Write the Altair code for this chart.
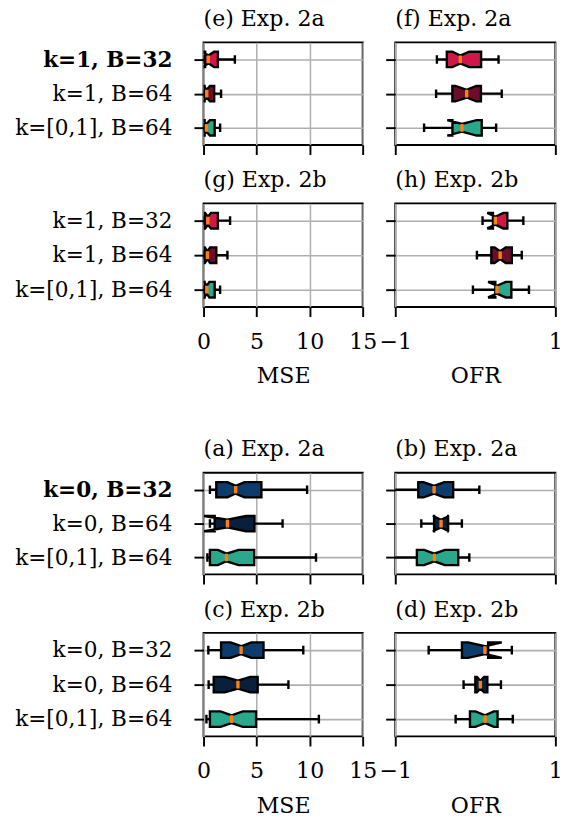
import altair as alt
import pandas as pd

FONT = "DejaVu Serif"
FS = 23
FS_Y = 22.5

# ---------------- data ----------------
labels_k1 = ["k=1, B=32", "k=1, B=64", "k=[0,1], B=64"]
labels_k0 = ["k=0, B=32", "k=0, B=64", "k=[0,1], B=64"]
colors_k1 = ["#D1174A", "#6B0E2A", "#2AA88C"]
colors_k0 = ["#0B3C6B", "#08203B", "#2AA88C"]
median_color = "#FF7F0E"

mse_ticks = [0, 5, 10, 15]
ofr_ticks = [-1, 0, 1]

# (e) MSE, Exp. 2a, k=1
e_whislo = [0.02, 0.02, 0.02]
e_q1 = [0.15, 0.10, 0.10]
e_cilo = [-0.10, 0.00, -0.05]
e_med = [0.45, 0.30, 0.27]
e_cihi = [1.00, 0.60, 0.60]
e_q3 = [1.35, 1.00, 1.05]
e_whishi = [2.95, 1.65, 1.56]

# (f) OFR, Exp. 2a, k=1
f_whislo = [-0.48, -0.49, -0.64]
f_q1 = [-0.356, -0.287, -0.286]
f_cilo = [-0.287, -0.248, -0.350]
f_med = [-0.188, -0.108, -0.167]
f_cihi = [-0.077, 0.012, 0.016]
f_q3 = [0.072, 0.07, 0.08]
f_whishi = [0.29, 0.33, 0.26]

# (g) MSE, Exp. 2b, k=1
g_whislo = [0.02, 0.02, 0.02]
g_q1 = [0.12, 0.10, 0.10]
g_cilo = [0.15, 0.12, 0.05]
g_med = [0.40, 0.36, 0.30]
g_cihi = [0.70, 0.62, 0.55]
g_q3 = [1.35, 1.20, 1.05]
g_whishi = [2.50, 2.25, 1.56]

# (h) OFR, Exp. 2b, k=1
h_whislo = [0.09, 0.02, -0.03]
h_q1 = [0.22, 0.20, 0.25]
h_cilo = [0.15, 0.24, 0.16]
h_med = [0.25, 0.31, 0.27]
h_cihi = [0.35, 0.38, 0.38]
h_q3 = [0.40, 0.456, 0.45]
h_whishi = [0.60, 0.58, 0.67]

# (a) MSE, Exp. 2a, k=0
a_whislo = [0.60, 0.60, 0.36]
a_q1 = [1.20, 1.05, 0.60]
a_cilo = [2.25, 0.05, 1.35]
a_med = [3.03, 2.25, 2.16]
a_cihi = [3.85, 4.00, 3.30]
a_q3 = [5.45, 4.80, 4.77]
a_whishi = [9.76, 7.45, 10.60]

# (b) OFR, Exp. 2a, k=0
b_whislo = [-1.10, -0.675, -1.10]
b_q1 = [-0.713, -0.515, -0.730]
b_cilo = [-0.647, -0.530, -0.640]
b_med = [-0.515, -0.428, -0.512]
b_cihi = [-0.388, -0.330, -0.380]
b_q3 = [-0.277, -0.340, -0.214]
b_whishi = [0.05, -0.168, -0.075]

# (c) MSE, Exp. 2b, k=0
c_whislo = [0.45, 0.48, 0.27]
c_q1 = [1.65, 0.96, 0.60]
c_cilo = [2.55, 2.00, 1.60]
c_med = [3.54, 3.24, 2.64]
c_cihi = [4.50, 4.40, 3.70]
c_q3 = [5.65, 5.10, 4.95]
c_whishi = [9.40, 8.00, 10.87]

# (d) OFR, Exp. 2b, k=0
d_whislo = [-0.583, -0.147, -0.246]
d_q1 = [-0.167, 0.00, -0.067]
d_cilo = [-0.09, 0.02, 0.00]
d_med = [0.12, 0.063, 0.123]
d_cihi = [0.33, 0.11, 0.23]
d_q3 = [0.16, 0.15, 0.278]
d_whishi = [0.456, 0.32, 0.468]

# ---------------- geometry / style ----------------
BOX_HW = 0.225
NOTCH_HW = 0.1125
CAP_HW = 0.125
W_LEFT, W_RIGHT = 166, 167
LW = 2.5


def box_frame(stats, colors):
    whislo, q1, cilo, med, cihi, q3, whishi = stats
    rows = []
    for i in range(3):
        pos = i + 1
        rows.append(dict(box=i, pos=pos, whislo=whislo[i], q1=q1[i], med=med[i],
                         q3=q3[i], whishi=whishi[i], color=colors[i],
                         cap_top=pos - CAP_HW, cap_bot=pos + CAP_HW,
                         med_top=pos - NOTCH_HW, med_bot=pos + NOTCH_HW))
    return pd.DataFrame(rows)


def poly_frame(stats, colors):
    whislo, q1, cilo, med, cihi, q3, whishi = stats
    rows = []
    for i in range(3):
        pos = i + 1
        t, b = pos - BOX_HW, pos + BOX_HW
        nt, nb = pos - NOTCH_HW, pos + NOTCH_HW
        verts = [(q1[i], t), (cilo[i], t), (med[i], nt), (cihi[i], t), (q3[i], t),
                 (q3[i], b), (cihi[i], b), (med[i], nb), (cilo[i], b), (q1[i], b),
                 (q1[i], t), (cilo[i], t)]
        for j, (vx, vy) in enumerate(verts):
            rows.append(dict(box=i, idx=j, px=vx, py=vy, color=colors[i]))
    return pd.DataFrame(rows)


def panel(title, stats, colors, labels, metric, show_x, show_y, bold_first, height, width):
    if metric == "MSE":
        xdom, xticks = [0, 15], mse_ticks
    else:
        xdom, xticks = [-1, 1], ofr_ticks
    xs = alt.Scale(domain=xdom, nice=False, zero=False)
    ys = alt.Scale(domain=[0.5, 3.5], nice=False, zero=False, reverse=True)
    common = dict(tickSize=10, tickWidth=2, tickColor="black", grid=True,
                  gridColor="#b0b0b0", gridWidth=1.6, domain=False,
                  labelFont=FONT, labelColor="black",
                  titleFont=FONT, titleFontSize=FS, titleFontWeight="normal",
                  titleColor="black")
    xa = alt.Axis(values=xticks, labels=show_x, title=metric if show_x else None,
                  labelPadding=15, labelFlush=False, titlePadding=13, format="d",
                  labelOverlap=False, labelFontSize=FS, **common)
    lab_expr = ("datum.value == 1 ? '%s' : datum.value == 2 ? '%s' : '%s'"
                % (labels[0], labels[1], labels[2]))
    yk = dict(values=[1, 2, 3], labels=show_y, title=None, labelPadding=23,
              labelExpr=lab_expr, labelOverlap=False, labelFontSize=FS_Y)
    if bold_first:
        yk["labelFontWeight"] = alt.condition("datum.value == 1", alt.value("bold"), alt.value("normal"))
    ya = alt.Axis(**yk, **common)

    bdf = box_frame(stats, colors)
    pdf = poly_frame(stats, colors)
    base = alt.Chart(bdf)

    def Y(f):
        return alt.Y(f, type="quantitative", scale=ys, axis=ya)

    def X(f):
        return alt.X(f, type="quantitative", scale=xs, axis=xa)

    whisk_lo = base.mark_rule(color="black", strokeWidth=LW, clip=True).encode(
        x=X("whislo"), x2="q1:Q", y=Y("pos"))
    whisk_hi = base.mark_rule(color="black", strokeWidth=LW, clip=True).encode(
        x=X("q3"), x2="whishi:Q", y=Y("pos"))
    cap_lo = base.mark_rule(color="black", strokeWidth=LW, clip=True).encode(
        x=X("whislo"), y=Y("cap_top"), y2="cap_bot:Q")
    cap_hi = base.mark_rule(color="black", strokeWidth=LW, clip=True).encode(
        x=X("whishi"), y=Y("cap_top"), y2="cap_bot:Q")
    boxes = alt.Chart(pdf).mark_line(stroke="black", strokeWidth=LW, strokeJoin="miter",
                                     clip=True, interpolate="linear").encode(
        x=X("px"), y=Y("py"), order="idx:Q", detail="box:N",
        fill=alt.Fill("color:N", scale=None))
    meds = base.mark_rule(color=median_color, strokeWidth=3.5, clip=True).encode(
        x=X("med"), y=Y("med_top"), y2="med_bot:Q")

    return alt.layer(whisk_lo, whisk_hi, cap_lo, cap_hi, boxes, meds).properties(
        width=width, height=height,
        title=alt.TitleParams(title, anchor="start", frame="group", font=FONT,
                              fontSize=FS, fontWeight="normal", color="black",
                              offset=-11, baseline="bottom"))


def st(p):
    g = globals()
    return [g[p + "_" + k] for k in ["whislo", "q1", "cilo", "med", "cihi", "q3", "whishi"]]


pe = panel("(e) Exp. 2a", st("e"), colors_k1, labels_k1, "MSE", False, True, True, 107, W_LEFT)
pf = panel("(f) Exp. 2a", st("f"), colors_k1, labels_k1, "OFR", False, False, False, 107, W_RIGHT)
pg = panel("(g) Exp. 2b", st("g"), colors_k1, labels_k1, "MSE", True, True, False, 108, W_LEFT)
ph = panel("(h) Exp. 2b", st("h"), colors_k1, labels_k1, "OFR", True, False, False, 108, W_RIGHT)
pa = panel("(a) Exp. 2a", st("a"), colors_k0, labels_k0, "MSE", False, True, True, 106, W_LEFT)
pb = panel("(b) Exp. 2a", st("b"), colors_k0, labels_k0, "OFR", False, False, False, 106, W_RIGHT)
pc = panel("(c) Exp. 2b", st("c"), colors_k0, labels_k0, "MSE", True, True, False, 108, W_LEFT)
pd_ = panel("(d) Exp. 2b", st("d"), colors_k0, labels_k0, "OFR", True, False, False, 108, W_RIGHT)

row1 = alt.hconcat(pe, pf, spacing=34, bounds="flush")
row2 = alt.hconcat(pg, ph, spacing=34, bounds="flush")
row3 = alt.hconcat(pa, pb, spacing=34, bounds="flush")
row4 = alt.hconcat(pc, pd_, spacing=34, bounds="flush")

group1 = alt.vconcat(row1, row2, spacing=13)
group2 = alt.vconcat(row3, row4, spacing=13)

chart = alt.vconcat(group1, group2, spacing=52).configure_view(
    stroke="black", strokeWidth=2
).properties(padding={"left": 5, "top": -18, "right": 0, "bottom": 0})

chart.save("out.html", embed_options={"renderer": "svg", "actions": False})
